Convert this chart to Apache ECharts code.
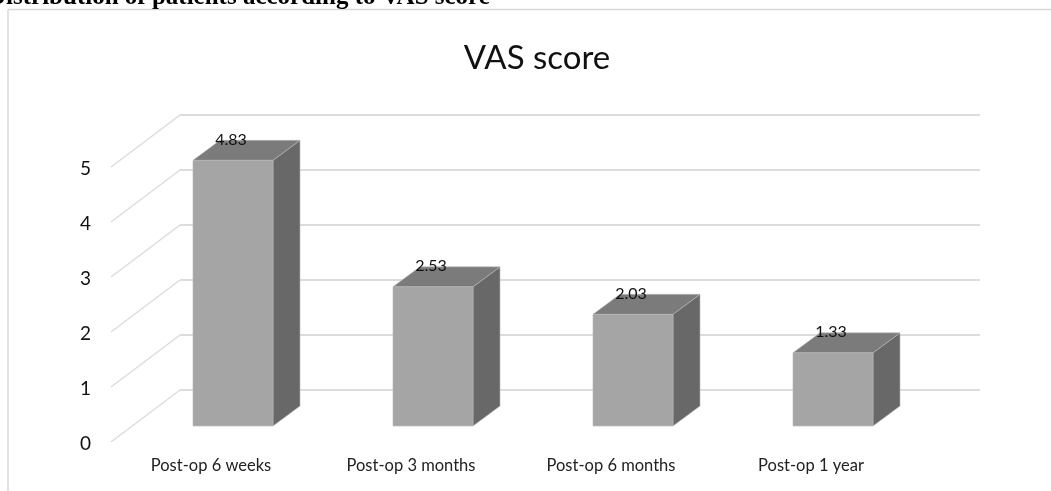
<!DOCTYPE html>
<html><head><meta charset="utf-8">
<style>html,body{margin:0;padding:0;background:#fff}#c{width:1051px;height:491px}</style>
<script src="https://cdn.jsdelivr.net/npm/echarts@6/dist/echarts.min.js"></script>
</head><body><div id="c"></div>
<script>
var categories = ['Post-op 6 weeks','Post-op 3 months','Post-op 6 months','Post-op 1 year'];
var scores = [4.83,2.53,2.03,1.33];
var yTicks = [0,1,2,3,4,5];

var chart = echarts.init(document.getElementById('c'));
var FONT = 'Lato';
function gridOf(l,t){return {left:l,top:t,width:800,height:275,containLabel:false};}
function catAxis(i,show){return {type:'category',gridIndex:i,data:categories,
  axisLine:{show:false},axisTick:{show:false},splitLine:{show:false},
  axisLabel:{show:show,color:'#222',fontFamily:FONT,fontSize:16.5,margin:15}};}
function valAxis(i,showLabel,showSplit){return {type:'value',gridIndex:i,min:0,max:5,interval:1,
  axisLine:{show:false},axisTick:{show:false},
  splitLine:{show:showSplit,lineStyle:{color:'#dcdcdc',width:2}},
  axisLabel:{show:showLabel,color:'#111',fontFamily:FONT,fontSize:19,margin:20}};}
var option = {
  animation:false,
  backgroundColor:'#fff',
  title:{text:'VAS score',left:532,top:37,textAlign:'center',
    textStyle:{fontFamily:FONT,fontSize:33,fontWeight:'normal',color:'#111'}},
  grid:[gridOf(111,167),gridOf(180,115),gridOf(133,151),gridOf(111,169)],
  xAxis:[catAxis(0,true),catAxis(1,false),catAxis(2,false),catAxis(3,false)],
  yAxis:[valAxis(0,false,false),valAxis(1,false,true),valAxis(2,false,false),valAxis(3,true,false)],
  graphic:[
    {type:'line',shape:{x1:8,y1:9.5,x2:1051,y2:9.5},style:{stroke:'#d9d9d9',lineWidth:1.5},silent:true},
    {type:'line',shape:{x1:8,y1:9.5,x2:8,y2:491},style:{stroke:'#d9d9d9',lineWidth:1.5},silent:true},
    {type:'text',x:-12,y:-15,style:{text:'Distribution of patients according to VAS score',
      fontFamily:'Liberation Serif',fontWeight:'bold',fontSize:25,fill:'#000'},silent:true}
  ],
  series:[
    {type:'custom',xAxisIndex:0,yAxisIndex:0,coordinateSystem:'cartesian2d',silent:true,z:2,
     data:yTicks.map(function(v){return [0,v];}),
     renderItem:function(p,api){
       var y=api.coord([0,api.value(1)])[1];
       return {type:'line',shape:{x1:111,y1:y,x2:180,y2:y-52},
         style:{stroke:'#dcdcdc',lineWidth:1.5,fill:null}};
     }},
    {type:'custom',xAxisIndex:2,yAxisIndex:2,coordinateSystem:'cartesian2d',silent:true,z:5,
     data:scores.map(function(v,i){return [i,v];}),
     renderItem:function(p,api){
       var dx=27,dy=-20;
       var i=api.value(0),v=api.value(1);
       var top=api.coord([i,v]),base=api.coord([i,0]);
       var w=api.size([1,0])[0]*0.4;
       var l=top[0]-w/2,r=top[0]+w/2,t=top[1],b=base[1];
       function poly(pts,fill){return {type:'polygon',shape:{points:pts},
         style:{fill:fill,stroke:'#b5b5b5',lineWidth:0.6}};}
       return {type:'group',children:[
         poly([[r,t],[r+dx,t+dy],[r+dx,b+dy],[r,b]],'#686868'),
         poly([[l,t],[l+dx,t+dy],[r+dx,t+dy],[r,t]],'#7b7b7b'),
         poly([[l,t],[r,t],[r,b],[l,b]],'#a5a5a5'),
         {type:'text',x:top[0]-2,y:t-21,style:{text:v.toFixed(2),align:'center',verticalAlign:'middle',
           fontFamily:FONT,fontSize:16,fill:'#111'},z2:10}
       ]};
     }}
  ]
};
chart.setOption(option);
</script></body></html>
